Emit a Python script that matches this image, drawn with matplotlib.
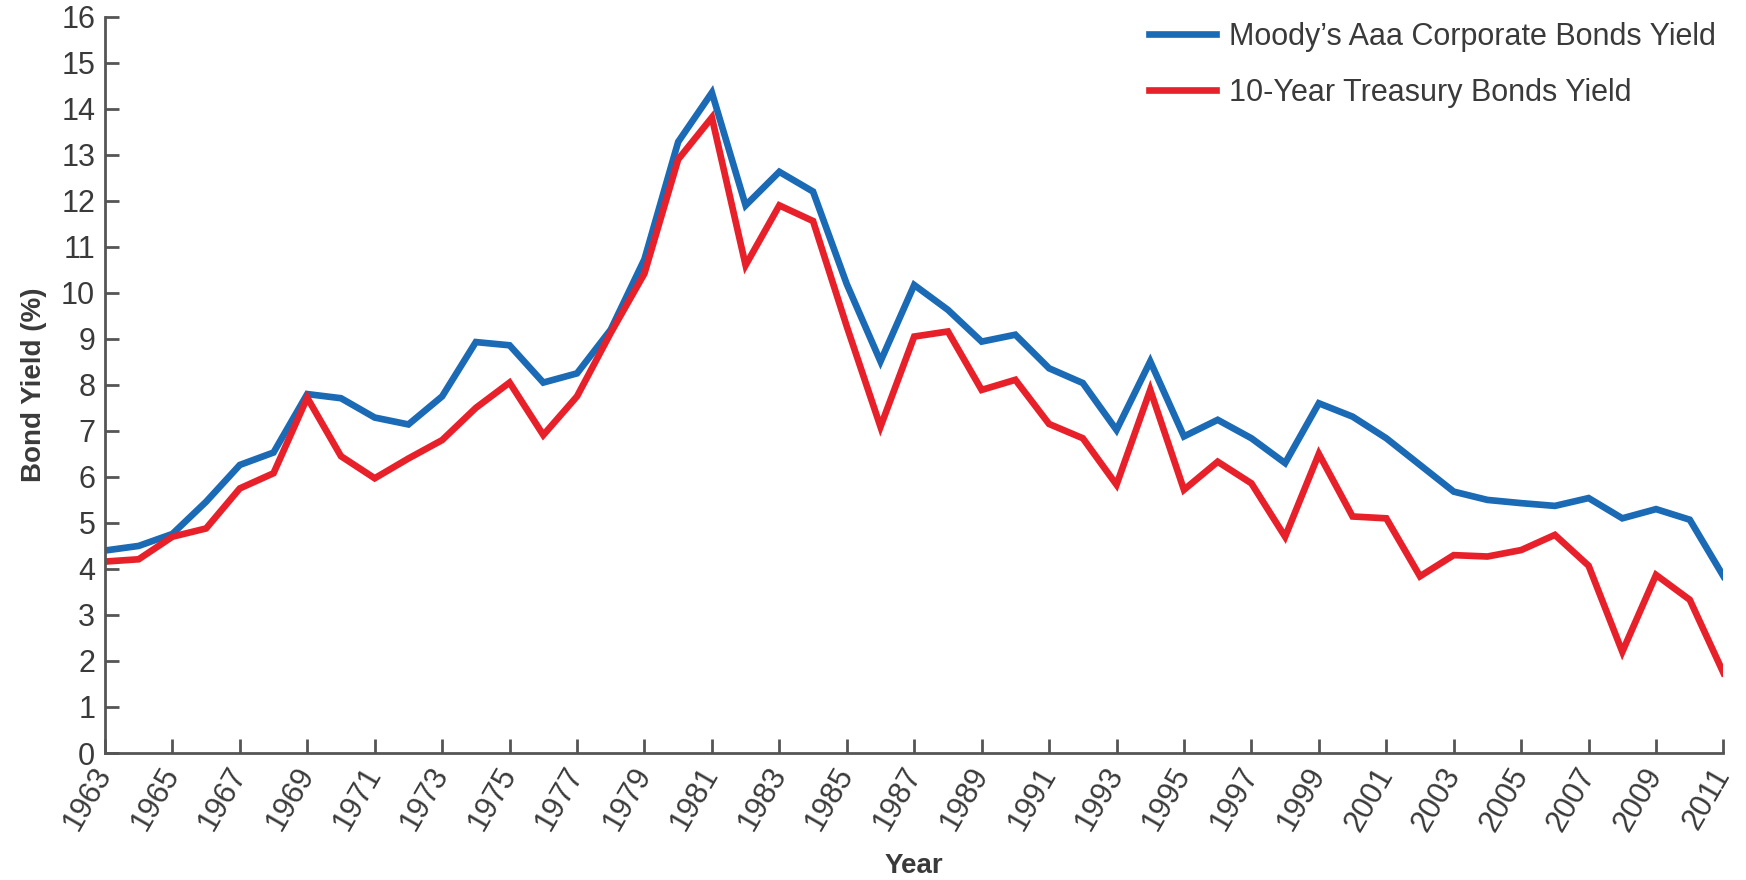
import numpy as np
from matplotlib import pyplot as plt

plt.rcParams['font.family'] = ['Liberation Sans', 'DejaVu Sans']

years = list(range(1963, 2012))
moodys_aaa = [4.40, 4.50, 4.76, 5.46, 6.26, 6.53, 7.80, 7.71, 7.29, 7.14, 7.75,
              8.93, 8.86, 8.05, 8.25, 9.20, 10.73, 13.28, 14.35, 11.90, 12.63,
              12.20, 10.19, 8.51, 10.17, 9.63, 8.94, 9.09, 8.36, 8.04, 7.02,
              8.51, 6.88, 7.24, 6.84, 6.30, 7.60, 7.31, 6.84, 6.26, 5.68,
              5.50, 5.43, 5.37, 5.54, 5.10, 5.30, 5.07, 3.84]
treasury_10y = [4.16, 4.21, 4.70, 4.88, 5.75, 6.08, 7.72, 6.45, 5.97, 6.40, 6.80,
                7.50, 8.05, 6.91, 7.75, 9.13, 10.42, 12.90, 13.81, 10.60, 11.90,
                11.56, 9.27, 7.09, 9.05, 9.16, 7.89, 8.11, 7.15, 6.84, 5.83,
                7.89, 5.72, 6.33, 5.86, 4.70, 6.50, 5.14, 5.10, 3.84, 4.30,
                4.27, 4.41, 4.74, 4.07, 2.20, 3.87, 3.33, 1.74]
x_ticks = list(range(1963, 2012, 2))
y_ticks = list(range(0, 17))

blue = '#1b6ab5'
red = '#e8202a'
axis_grey = '#555555'
text_grey = '#3a3a3a'

fig = plt.figure(figsize=(17.46, 8.8), dpi=100)
ax = fig.add_axes([0.0601, 0.1443, 0.9270, 0.8367])

ax.plot(years, moodys_aaa, color=blue, lw=4.8, solid_joinstyle='miter',
        label="Moody\u2019s Aaa Corporate Bonds Yield")
ax.plot(years, treasury_10y, color=red, lw=4.8, solid_joinstyle='miter',
        label='10-Year Treasury Bonds Yield')

ax.set_xlim(1963, 2011)
ax.set_ylim(0, 16)
ax.set_xticks(x_ticks)
ax.set_yticks(y_ticks)
ax.set_xticklabels([str(y) for y in x_ticks], rotation=60, ha='right',
                   va='center', rotation_mode='anchor')

for side in ['top', 'right']:
    ax.spines[side].set_visible(False)
for side in ['left', 'bottom']:
    ax.spines[side].set_color(axis_grey)
    ax.spines[side].set_linewidth(2)

ax.tick_params(axis='both', direction='in', length=10, width=2,
               color=axis_grey, labelsize=22, labelcolor=text_grey)
ax.tick_params(axis='y', pad=7)
ax.tick_params(axis='x', pad=12)

ax.set_xlabel('Year', fontsize=20, fontweight='bold', color=text_grey,
              labelpad=12)
ax.set_ylabel('Bond Yield (%)', fontsize=20, fontweight='bold',
              color=text_grey, labelpad=10)

leg = ax.legend(loc='upper right', bbox_to_anchor=(1.012, 1.03), frameon=False,
                fontsize=22, handlelength=2.2, handletextpad=0.4,
                labelspacing=0.85)
for t in leg.get_texts():
    t.set_color(text_grey)

fig.savefig('out.png', dpi=100)
